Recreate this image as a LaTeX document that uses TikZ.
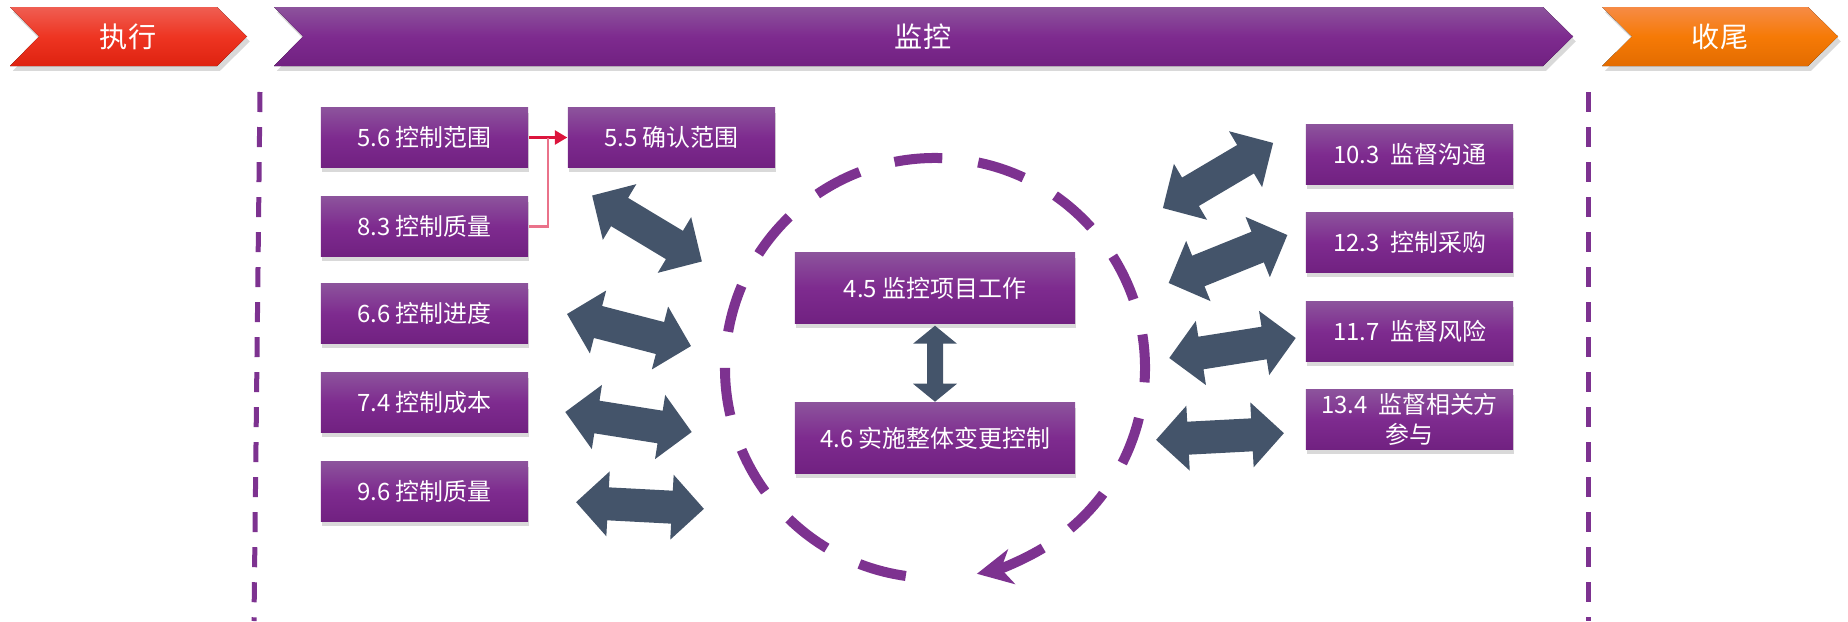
\documentclass[tikz,border=0pt]{standalone}
\usepackage{fontspec}
\setmainfont{Noto Sans CJK SC}
\usetikzlibrary{arrows.meta,shadows}

\definecolor{purpletop}{HTML}{8C539C}
\definecolor{purplemid}{HTML}{7E2B8F}
\definecolor{purplebot}{HTML}{712181}
\definecolor{redtop}{HTML}{EF5E52}
\definecolor{redmid}{HTML}{EE3522}
\definecolor{redbot}{HTML}{DE2210}
\definecolor{orangetop}{HTML}{F68B46}
\definecolor{orangemid}{HTML}{F67A06}
\definecolor{orangebot}{HTML}{E36C00}
\definecolor{slate}{HTML}{44546A}
\definecolor{ringpurple}{HTML}{7D3290}
\definecolor{linkred}{HTML}{DC143C}

\tikzset{
  proc/.style={rectangle, text=white, font=\fontsize{6.8}{8.5}\selectfont,
    top color=purpletop, bottom color=purplebot, middle color=purplemid,
    minimum width=2.07cm, minimum height=0.59cm, inner sep=0pt, align=center,
    drop shadow={shadow xshift=0.4pt, shadow yshift=-1.4pt, opacity=0.3}},
  core/.style={proc, minimum width=2.8cm, minimum height=0.7cm},
  phase/.style={text=white, font=\fontsize{8}{9}\selectfont},
  bar/.style={drop shadow={shadow xshift=0.8pt, shadow yshift=-1.4pt, opacity=0.3}},
  gate/.style={ringpurple, line width=0.05cm, dash pattern=on 0.2cm off 0.15cm},
  ring/.style={ringpurple, line width=0.1cm, dash pattern=on 0.48cm off 0.362cm},
  link/.style={linkred, line width=0.6pt},
  dblarrow/.pic={
    \fill[slate] (-64,0) -- (-32,32.5) -- (-32,16.5) -- (32,16.5) -- (32,32.5)
      -- (64,0) -- (32,-32.5) -- (32,-16.5) -- (-32,-16.5) -- (-32,-32.5) -- cycle;
  }
}

\begin{document}
\begin{tikzpicture}[x=0.01cm, y=0.01cm]
  \useasboundingbox (0,0) rectangle (1848,-621);

  % phases
  \fill[bar, top color=redtop, bottom color=redbot, middle color=redmid]
    (10,-7) -- (217,-7) -- (247,-36.5) -- (217,-66) -- (10,-66) -- (39,-36.5) -- cycle;
  \fill[bar, top color=purpletop, bottom color=purplebot, middle color=purplemid]
    (274,-7) -- (1543,-7) -- (1573,-36.5) -- (1543,-66) -- (274,-66) -- (303,-36.5) -- cycle;
  \fill[bar, top color=orangetop, bottom color=orangebot, middle color=orangemid]
    (1602,-7) -- (1808,-7) -- (1838,-36.5) -- (1808,-66) -- (1602,-66) -- (1632,-36.5) -- cycle;
  \node[phase] (exec) at (128,-36.5) {执行};
  \node[phase] (monitor) at (923,-36.5) {监控};
  \node[phase] (close) at (1720,-36.5) {收尾};

  \draw[gate] (260,-92) -- (254,-621);
  \draw[gate] (1588,-92) -- (1588,-621);

  % left column
  \node[proc] (b56) at (424.5,-137.5) {5.6 控制范围};
  \node[proc] (b83) at (424.5,-226.5) {8.3 控制质量};
  \node[proc] (b66) at (424.5,-313.5) {6.6 控制进度};
  \node[proc] (b74) at (424.5,-402.5) {7.4 控制成本};
  \node[proc] (b96) at (424.5,-491.5) {9.6 控制质量};
  \node[proc] (b55) at (671.5,-137.5) {5.5 确认范围};

  \coordinate (join) at (548,-137.5);
  \draw[link, -{Triangle[length=3.5pt,width=4pt]}] (b56.east) -- (b55.west);
  \draw[link, linkred!60] (b83.east) -| (join);

  % right column
  \node[proc] (b103) at (1409.5,-154.5) {10.3~~监督沟通};
  \node[proc] (b123) at (1409.5,-242.5) {12.3~~控制采购};
  \node[proc] (b117) at (1409.5,-331.5) {11.7~~监督风险};
  \node[proc] (b134) at (1409.5,-419.5) {13.4~~监督相关方\\参与};

  % centre
  \draw[ring] (935,-368) ++(-98:210) arc[start angle=-98, end angle=-410, radius=210];
  \draw[ringpurple, line width=0.1cm, -{Stealth[length=10pt,width=10pt,inset=3pt]}]
    (935,-368) ++(-59:210) arc[start angle=-59, end angle=-78.5, radius=210];

  \node[core] (b45) at (935,-288) {4.5 监控项目工作};
  \node[core] (b46) at (935,-438) {4.6 实施整体变更控制};
  \fill[slate] ([yshift=-0.02cm]b45.south) -- ++(22,-18) -- ++(-14,0) -- ++(0,-40)
    -- ++(14,0) -- ++(-22,-18) -- ++(-22,18) -- ++(14,0) -- ++(0,40) -- ++(-14,0) -- cycle;

  \pic[rotate=-31] at (647,-228.5) {dblarrow};
  \pic[rotate=-14.5] at (629,-330) {dblarrow};
  \pic[rotate=-9] at (628.5,-422) {dblarrow};
  \pic[rotate=-3] at (640,-505.5) {dblarrow};

  \pic[rotate=30.6] at (1218,-175.5) {dblarrow};
  \pic[rotate=22] at (1228,-259) {dblarrow};
  \pic[rotate=9] at (1232.5,-348) {dblarrow};
  \pic[rotate=3] at (1220,-436.5) {dblarrow};
\end{tikzpicture}
\end{document}
